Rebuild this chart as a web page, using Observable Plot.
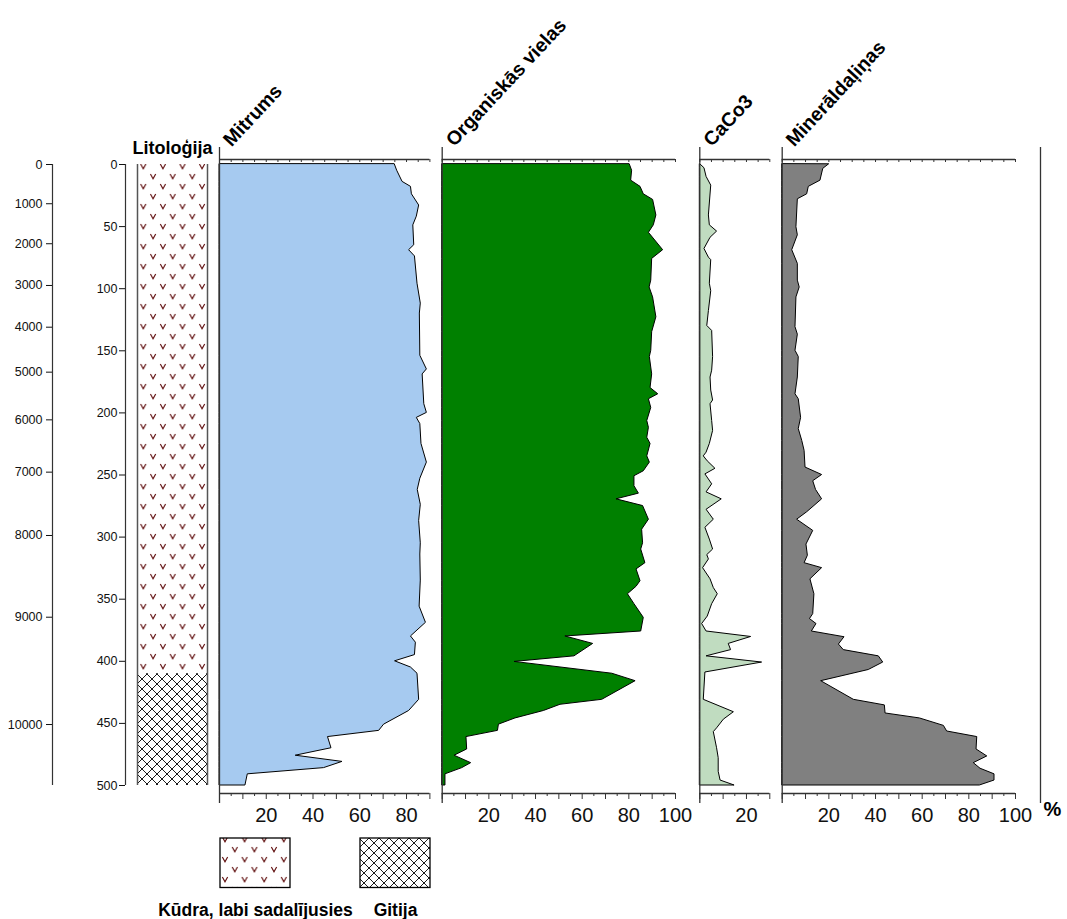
<!DOCTYPE html>
<html><head><meta charset="utf-8">
<script src="https://cdn.jsdelivr.net/npm/d3@7"></script>
<script src="https://cdn.jsdelivr.net/npm/@observablehq/plot@0.6"></script>
<style>
body{margin:0;background:#fff}
#chart{position:relative;width:1067px;height:919px;overflow:hidden;background:#fff}
#chart svg{position:absolute;left:0;top:0;max-width:none}
</style></head><body><div id="chart"></div>
<script>
// ---------------- DATA ----------------
const depthTicks = [0, 50, 100, 150, 200, 250, 300, 350, 400, 450, 500];
const ageLabels = [0, 1000, 2000, 3000, 4000, 5000, 6000, 7000, 8000, 9000, 10000];
const ageDepths = [0, 31.6, 63.8, 97.4, 131, 167.2, 205.6, 247.7, 298.7, 364.5, 450.9];

const lithTypes = ["peat", "gyttja"];
const lithTop = [0, 410];
const lithBottom = [410, 500];
const lithLabels = ["Kūdra, labi sadalījusies", "Gitija"];

const mitrumsDepth = [0, 5, 14, 18, 24, 33, 42, 49, 65, 69, 74, 96, 112, 120, 154, 165, 169, 193, 200, 204, 209, 225, 240, 253, 262, 274, 287, 305, 314, 335, 356, 369, 380, 385, 395, 400, 405, 410, 431, 440, 451, 456, 461, 470, 476, 481, 486, 491, 500];
const mitrumsValue = [75, 76, 78.3, 81.9, 82.3, 85.4, 84.4, 82.9, 83.3, 81.1, 83.6, 84.7, 86.1, 85.7, 85.9, 88.7, 86.9, 87.6, 88.7, 84.4, 85.9, 86.4, 88.7, 85.9, 84.8, 86.1, 85.4, 86.1, 85.9, 86.1, 85.6, 88.3, 81.9, 84, 83.6, 75.1, 81.9, 84.7, 85.4, 81.1, 70.4, 68.3, 46.4, 47.9, 32.6, 52.6, 44.7, 12.1, 11.1];

const organicDepth = [0, 5, 13, 18, 24, 28.5, 41, 49, 55, 69, 76, 93.5, 99, 107, 123, 135, 150, 155, 169, 180, 185, 189, 196, 206.5, 212, 220, 225, 235, 240, 247, 251, 259, 265, 269.6, 275, 286, 294, 305, 310, 321, 326, 335.5, 340, 346, 354, 365, 376, 380, 386, 396, 400.5, 410, 416, 431, 435, 440, 446, 451, 456, 461, 471, 476, 482, 486, 491, 500];
const organicValue = [80.4, 81.4, 81, 85, 86.4, 90.4, 91.8, 90.7, 88.6, 94.7, 90, 89.6, 88.9, 90.4, 91.8, 90, 89.6, 89, 90, 89.3, 92.6, 88.6, 89.6, 87.9, 88.6, 87.9, 89.3, 87.9, 89, 86.4, 82.4, 82.4, 84.3, 74.7, 86.1, 88.6, 85.7, 86.1, 85.3, 87.1, 83.3, 85, 83.3, 79.6, 82.4, 86.4, 85.3, 52.8, 64.7, 56.7, 31, 72.9, 82.9, 68.6, 50.7, 43.6, 31.4, 24.3, 23.9, 10.4, 10.7, 5.3, 12.4, 8.6, 1.4, 1.4];

const caco3Depth = [0, 3, 10, 17, 41, 49, 54, 59, 68, 75, 77, 96, 102, 118, 130, 134, 155, 166, 171.5, 182, 190, 193, 206.5, 214.5, 225, 232, 235, 239, 245, 249.5, 257.5, 264, 269.6, 278, 286, 292.5, 302, 310, 314.5, 318, 325, 334, 341, 346, 354, 364, 370, 376, 380.4, 386, 391, 396, 401, 409, 431, 441, 447, 454, 457, 470, 478, 489, 496, 500];
const caco3Value = [0.3, 2, 2.9, 4.9, 3.9, 4.3, 7.4, 4.6, 2, 3.9, 4.9, 4.3, 4.9, 3.9, 3.2, 5.3, 5.7, 5.3, 4.6, 4.9, 5.7, 4.6, 5.3, 5.7, 4.3, 2.9, 1.7, 3.4, 6.7, 2.4, 5.3, 2.9, 9.4, 2.9, 6, 2.4, 4.3, 5.7, 3.2, 3.9, 1.4, 4.6, 6, 7.7, 5.3, 3.4, 1, 2.9, 22, 12.4, 13.4, 2.9, 26.7, 2.4, 1.7, 14.6, 10.3, 7.4, 6, 7.4, 8.1, 8.1, 8.9, 14.9];

const mineralDepth = [0, 3.5, 13, 18, 24, 28, 50.5, 57, 69, 80, 93.5, 99, 107, 131, 137, 150, 155, 171.5, 185, 189, 204, 213, 222.6, 230.6, 244, 250, 255, 262, 269.6, 280, 286, 295, 306, 315, 321, 325, 334, 346, 362, 366, 370, 376, 380.6, 386.5, 391, 396, 401, 407, 416, 431, 435.5, 442, 446, 452, 456.5, 461, 471, 476.6, 482, 486.5, 491, 496, 500];
const mineralValue = [20, 17.6, 16.4, 11.4, 10.7, 6.7, 6.1, 6.7, 4.3, 6.7, 6.7, 7.5, 6.1, 5.7, 6.7, 5.7, 7.1, 6.7, 5.7, 7.1, 8.1, 7.1, 8.6, 9.6, 10, 17.1, 13.3, 14.5, 17.1, 10.7, 6.4, 13.3, 10.4, 11, 9.6, 17.1, 12.1, 13.8, 13.3, 11.9, 14.7, 12.7, 26.7, 24.3, 26.4, 41.4, 43.3, 37.1, 16.7, 30.7, 44, 44.3, 59, 69.3, 70.7, 83.6, 83.3, 87.9, 82.1, 85, 91, 91, 84.7];

// ---------------- LAYOUT / STYLE ----------------
const W = 1067, H = 919, TOP = 164, BOTTOM = 785;
const FONT = "'Liberation Sans', Arial, Helvetica, sans-serif";
const AXIS = "#333";
const chart = document.getElementById("chart");
const patternOf = {peat: "url(#peatPat)", gyttja: "url(#gyttjaPat)"};
const patternOfLegend = {peat: "url(#peatPatL)", gyttja: "url(#gyttjaPatL)"};

function mount(svg) { chart.appendChild(svg); return svg; }

function base(left, right, xDomain, marks) {
  return mount(Plot.plot({
    width: W, height: H,
    marginLeft: left, marginRight: W - right, marginTop: TOP, marginBottom: H - BOTTOM,
    x: {domain: xDomain, axis: null},
    y: {domain: [0, 500], reverse: true, axis: null},
    style: {background: "transparent", fontFamily: FONT, color: "#111", overflow: "visible", fontSize: "12.5px"},
    marks
  }));
}

const NS = "http://www.w3.org/2000/svg";
function addDefs(svg, ids, vx, vy, hx, hy) {
  const defs = document.createElementNS(NS, "defs");
  defs.innerHTML =
    `<pattern id="${ids[0]}" patternUnits="userSpaceOnUse" width="19.6" height="20" x="${vx}" y="${vy}">` +
    `<path d="M2.3,1L4.9,5.8L7.5,1M12.1,11L14.7,15.8L17.3,11" fill="none" stroke="#5c0808" stroke-width="1.1"/></pattern>` +
    `<pattern id="${ids[1]}" patternUnits="userSpaceOnUse" width="10" height="10" x="${hx}" y="${hy}">` +
    `<path d="M-1,-1L11,11M11,-1L-1,11" fill="none" stroke="#000" stroke-width="0.9"/></pattern>`;
  svg.insertBefore(defs, svg.firstChild);
}

// ---------------- AGE AXIS ----------------
const ageOf = new Map(ageDepths.map((d, i) => [d, ageLabels[i]]));
base(52, 53, [0, 1], [
  Plot.ruleX([0], {stroke: AXIS, strokeWidth: 1.2}),
  Plot.axisY({anchor: "left", ticks: ageDepths, tickFormat: d => String(ageOf.get(d)), tickSize: 6, tickPadding: 4, label: null, fontSize: 12.5})
]);

// ---------------- DEPTH AXIS ----------------
base(125, 126, [0, 1], [
  Plot.ruleX([0], {stroke: AXIS, strokeWidth: 1.2}),
  Plot.axisY({anchor: "left", ticks: depthTicks, tickFormat: d => String(d), tickSize: 6, tickPadding: 2, label: null, fontSize: 12.5})
]);

// ---------------- LITHOLOGY ----------------
const lith = lithTypes.map((t, i) => ({type: t, top: lithTop[i], bottom: lithBottom[i]}));
const lithSvg = base(137, 207, [0, 1], [
  Plot.rect(lith, {x1: 0, x2: 1, y1: "top", y2: "bottom", fill: d => patternOf[d.type]}),
  Plot.ruleX([0, 1], {stroke: "#555", strokeWidth: 1.5}),
  Plot.text(["Litoloģija"], {text: d => d, frameAnchor: "top", dy: -11, lineAnchor: "bottom", fontSize: 18, fontWeight: "bold", fill: "#000"})
]);
addDefs(lithSvg, ["peatPat", "gyttjaPat"], 138.4, 163, 137, 164);

// ---------------- PROFILE PANELS ----------------
function panel(p) {
  const rows = p.depth.map((d, i) => ({depth: d, value: p.value[i]}));
  const ticks = d3.range(0, p.max + 1e-9, 5);
  const major = ticks.filter(t => t % 10 === 0);
  const minor = ticks.filter(t => t % 10 !== 0);
  base(p.left, p.right, [0, p.max], [
    Plot.areaX(rows, {y: "depth", x: "value", fill: p.fill, stroke: "#000", strokeWidth: 1}),
    Plot.ruleX([0], {stroke: AXIS, strokeWidth: 1.3, insetTop: -17, insetBottom: -18}),
    Plot.ruleY([0], {stroke: AXIS, strokeWidth: 1.3, dy: -5}),
    Plot.ruleX(ticks, {x: d => d, y1: 0, y2: 0, insetTop: -5, insetBottom: 2, stroke: AXIS}),
    Plot.ruleY([500], {stroke: AXIS, strokeWidth: 1.3, dy: 8}),
    Plot.ruleX(major, {x: d => d, y1: 500, y2: 500, insetTop: 8, insetBottom: -14, stroke: AXIS}),
    Plot.ruleX(minor, {x: d => d, y1: 500, y2: 500, insetTop: 8, insetBottom: -11, stroke: AXIS}),
    Plot.axisX({anchor: "bottom", ticks: p.labels, tickSize: 0, tickPadding: 22, fontSize: 20, label: null, tickFormat: d => String(d)}),
    Plot.text([p.title], {text: d => d, frameAnchor: "top-left", dx: 12, dy: -17, rotate: -47, textAnchor: "start", lineAnchor: "bottom", fontSize: 19.5, fontWeight: "bold", fill: "#000"})
  ]);
}

panel({title: "Mitrums", depth: mitrumsDepth, value: mitrumsValue, max: 90, left: 219, right: 429.4, fill: "#a6caf0", labels: [20, 40, 60, 80]});
panel({title: "Organiskās vielas", depth: organicDepth, value: organicValue, max: 100, left: 441.7, right: 675, fill: "#008000", labels: [20, 40, 60, 80, 100]});
panel({title: "CaCo3", depth: caco3Depth, value: caco3Value, max: 30, left: 699.3, right: 769.3, fill: "#c0dcc0", labels: [20]});
panel({title: "Minerāldaļiņas", depth: mineralDepth, value: mineralValue, max: 100, left: 781.7, right: 1015, fill: "#808080", labels: [20, 40, 60, 80, 100]});

// ---------------- RIGHT FRAME + % ----------------
base(1040, 1041, [0, 1], [
  Plot.ruleX([0], {stroke: AXIS, strokeWidth: 1.3, insetTop: -17, insetBottom: -18}),
  Plot.text(["%"], {text: d => d, frameAnchor: "bottom-left", dx: 3, dy: 30, textAnchor: "start", lineAnchor: "bottom", fontSize: 20, fontWeight: "bold", fill: "#000"})
]);

// ---------------- LEGEND ----------------
const legSvg = mount(Plot.plot({
  width: W, height: H,
  marginLeft: 219, marginRight: W - 430, marginTop: 838, marginBottom: H - 887.5,
  x: {type: "band", domain: lithTypes, paddingInner: 0.5, paddingOuter: 0, axis: null},
  y: {domain: [0, 1], axis: null},
  style: {background: "transparent", fontFamily: FONT, color: "#111", overflow: "visible"},
  marks: [
    Plot.barY(lithTypes, {x: d => d, y1: 0, y2: 1, fill: d => patternOfLegend[d], stroke: "#000", strokeWidth: 1.3}),
    Plot.text(lithTypes, {x: d => d, text: d => lithLabels[lithTypes.indexOf(d)], frameAnchor: "bottom", dy: 27.5, lineAnchor: "bottom", fontSize: 17.5, fontWeight: "bold", fill: "#000"})
  ],
  color: {type: "identity"}
}));
addDefs(legSvg, ["peatPatL", "gyttjaPatL"], 220.1, 836, 359, 838);
</script></body></html>
